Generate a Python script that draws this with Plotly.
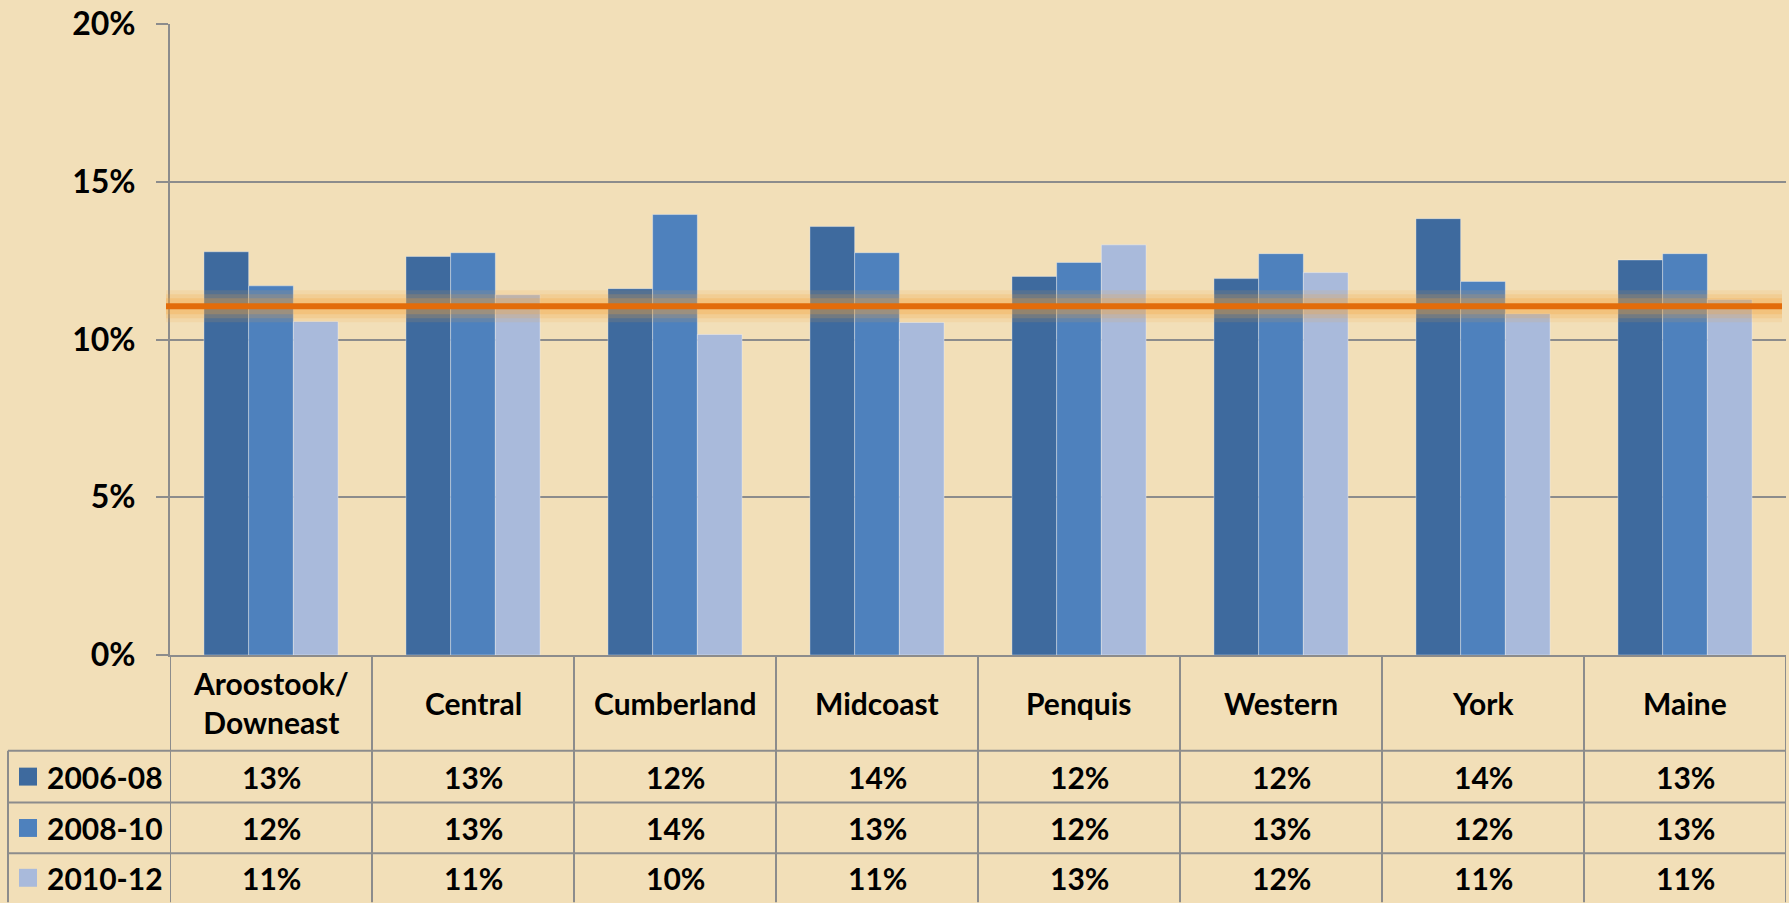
import plotly.graph_objects as go

categories = ["Aroostook/<br>Downeast", "Central", "Cumberland", "Midcoast",
              "Penquis", "Western", "York", "Maine"]
series_names = ["2006-08", "2008-10", "2010-12"]
v_2006_08 = [0.1278, 0.1263, 0.1161, 0.1358, 0.1200, 0.1193, 0.1383, 0.1252]
v_2008_10 = [0.1170, 0.1275, 0.1396, 0.1275, 0.1244, 0.1272, 0.1184, 0.1272]
v_2010_12 = [0.1057, 0.1142, 0.1016, 0.1054, 0.1300, 0.1212, 0.1082, 0.1127]
benchmark = 0.1105
y_ticks = [0, 0.05, 0.10, 0.15, 0.20]

series_values = [v_2006_08, v_2008_10, v_2010_12]
colors = ["#3E6A9E", "#4E81BD", "#A9BADB"]
FONT = "Lato"
GRID = "#8C8C8C"
BG = "#F2DFB8"
TS = 30

W, H = 1789, 903
L, R, T, B = 170, 3, 22, 248
pw = W - L - R
ph = H - T - B


def py(p):
    return (H - B - p) / ph


def px(p):
    return (p - L) / pw


def tfont(size=TS):
    return dict(family=FONT, size=size, color="black", weight="bold")


fig = go.Figure()
idx = list(range(len(categories)))
for name, vals, col in zip(series_names, series_values, colors):
    fig.add_trace(go.Bar(
        x=idx, y=vals, name=name,
        marker=dict(color=col, line=dict(color="rgba(255,255,255,0.35)", width=1)),
        showlegend=False, hoverinfo="skip",
    ))

shapes = []
# benchmark line with glow
for w, op in [(32, 0.12), (24, 0.18), (16, 0.25)]:
    shapes.append(dict(type="line", xref="paper", yref="y",
                       x0=px(166), x1=px(1782), y0=benchmark, y1=benchmark,
                       line=dict(color="#F7A53A", width=w), opacity=op, layer="above"))
shapes.append(dict(type="line", xref="paper", yref="y",
                   x0=px(166), x1=px(1782), y0=benchmark, y1=benchmark,
                   line=dict(color="#E36C0A", width=6), layer="above"))

# data table lines
row_lines = [751, 803, 854]
for yl in row_lines:
    shapes.append(dict(type="line", xref="paper", yref="paper",
                       x0=px(8), x1=px(1786), y0=py(yl), y1=py(yl),
                       line=dict(color=GRID, width=2)))
for k in range(len(categories) + 1):
    shapes.append(dict(type="line", xref="x", yref="paper",
                       x0=k - 0.5, x1=k - 0.5, y0=py(655), y1=py(903),
                       line=dict(color=GRID, width=2)))
shapes.append(dict(type="line", xref="paper", yref="paper",
                   x0=px(8), x1=px(8), y0=py(751), y1=py(903),
                   line=dict(color=GRID, width=2)))

annotations = []
for i, c in enumerate(categories):
    annotations.append(dict(x=i, y=py(703), xref="x", yref="paper", text=c,
                            showarrow=False, font=tfont(),
                            xanchor="center", yanchor="middle"))
row_centers = [777, 828.5, 878.5]
for name, vals, col, yc in zip(series_names, series_values, colors, row_centers):
    shapes.append(dict(type="rect", xref="paper", yref="paper",
                       x0=px(19), x1=px(37), y0=py(yc + 9), y1=py(yc - 9),
                       fillcolor=col, line=dict(width=0)))
    annotations.append(dict(x=px(45), y=py(yc), xref="paper", yref="paper", text=name,
                            showarrow=False, font=tfont(),
                            xanchor="left", yanchor="middle"))
    for i, v in enumerate(vals):
        annotations.append(dict(x=i, y=py(yc), xref="x", yref="paper",
                                text=f"{round(v * 100):d}%",
                                showarrow=False, font=tfont(),
                                xanchor="center", yanchor="middle"))

fig.update_layout(
    width=W, height=H,
    margin=dict(l=L, r=R, t=T, b=B, pad=0),
    paper_bgcolor=BG, plot_bgcolor=BG,
    barmode="group", bargap=0.336, bargroupgap=0,
    font=dict(family=FONT, size=TS, color="black"),
    shapes=shapes, annotations=annotations,
    xaxis=dict(range=[-0.5, len(categories) - 0.5], showticklabels=False,
               showgrid=False, zeroline=False, showline=True, linecolor=GRID,
               linewidth=2, ticks=""),
    yaxis=dict(range=[0, 0.20], tickvals=y_ticks, tickformat=".0%",
               showgrid=True, gridcolor=GRID, gridwidth=2, zeroline=False,
               showline=True, linecolor=GRID, linewidth=2,
               ticks="outside", ticklen=12, tickcolor=GRID, tickwidth=2,
               ticklabelstandoff=14,
               tickfont=tfont(32)),
)

fig.write_html("out.html", config={"displayModeBar": False},
               post_script="document.body.style.margin='0';document.body.style.overflow='hidden';")
